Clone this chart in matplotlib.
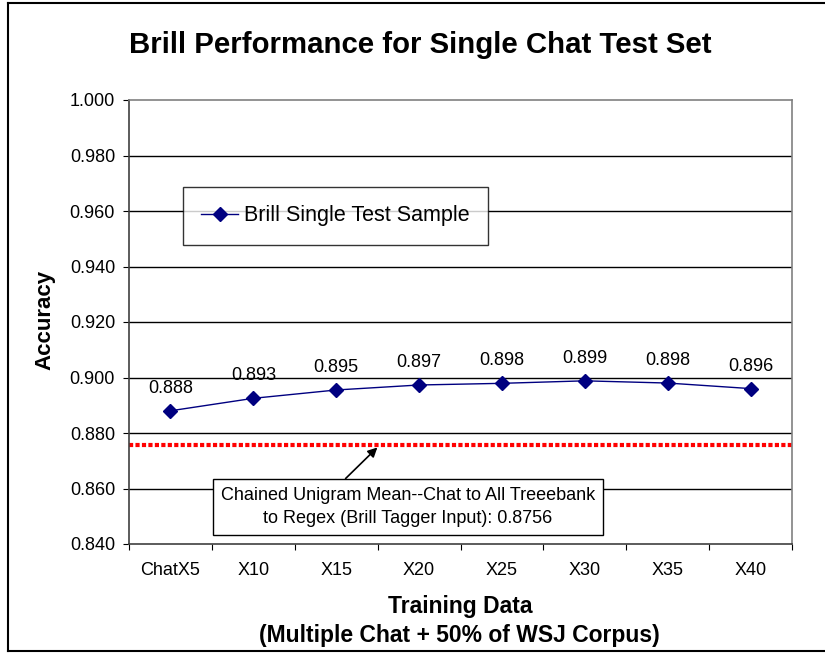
import matplotlib
matplotlib.use("Agg")
import matplotlib.pyplot as plt
import matplotlib.lines as mlines
import numpy as np

plt.rcParams['font.family'] = ['Liberation Sans', 'DejaVu Sans']

categories = ["ChatX5", "X10", "X15", "X20", "X25", "X30", "X35", "X40"]
accuracy = [0.8880, 0.8925, 0.8955, 0.8973, 0.8979, 0.8988, 0.8980, 0.8960]
value_labels = ["0.888", "0.893", "0.895", "0.897", "0.898", "0.899", "0.898", "0.896"]
baseline = 0.8756
yticks = [0.84, 0.86, 0.88, 0.90, 0.92, 0.94, 0.96, 0.98, 1.00]

W, H = 825, 657
fig = plt.figure(figsize=(W/100, H/100), dpi=100)

def fx(px):
    return px / W

def fy(py):
    return 1 - py / H

# outer frame (left, top, bottom edges visible)
for xs, ys in [((8, 8), (3, 651)), ((8, 830), (3, 3)), ((8, 830), (651, 651))]:
    fig.add_artist(mlines.Line2D([fx(v) for v in xs], [fy(v) for v in ys],
                                 transform=fig.transFigure, color='black', linewidth=1.5))

left, right, top, bottom = 129, 792, 100, 544
ax = fig.add_axes([fx(left), fy(bottom), (right-left)/W, (bottom-top)/H])

x = np.arange(len(categories))
ax.set_xlim(-0.5, len(categories)-0.5)
ax.set_ylim(0.84, 1.00)

for yv in yticks[1:-1]:
    ax.axhline(yv, color='black', linewidth=1.0, zorder=1)

ax.axhline(baseline, color='#ff0000', linewidth=3, linestyle=(0, (1, 0.55)), zorder=2)

line, = ax.plot(x, accuracy, color='#000080', linewidth=1, marker='D', markersize=7,
                markerfacecolor='#000080', markeredgecolor='#000080', zorder=3,
                label='Brill Single Test Sample')

for xi, yi, lab in zip(x, accuracy, value_labels):
    ax.annotate(lab, (xi, yi), xytext=(0, 10), textcoords='offset points',
                ha='center', va='bottom', fontsize=13)

ax.set_yticks(yticks)
ax.set_yticklabels([f"{v:.3f}" for v in yticks], fontsize=13)
ax.set_xticks(np.arange(-0.5, len(categories), 1.0))
ax.set_xticklabels([])
ax.set_xticks(x, minor=True)
ax.set_xticklabels(categories, minor=True, fontsize=13)
ax.tick_params(axis='x', which='minor', length=0, pad=13)
ax.tick_params(axis='x', which='major', length=4.5, direction='out', color='black')
ax.tick_params(axis='y', length=4.5, direction='out', color='black', pad=5.5)

for s in ['top', 'right']:
    ax.spines[s].set_color('#808080')
    ax.spines[s].set_linewidth(1.2)
for s in ['left', 'bottom']:
    ax.spines[s].set_color('#404040')
    ax.spines[s].set_linewidth(1.2)

fig.text(fx(460), fy(613), "Training Data", ha='center', va='baseline',
         fontsize=16.5, fontweight='bold')
fig.text(fx(459), fy(642), "(Multiple Chat + 50% of WSJ Corpus)", ha='center', va='baseline',
         fontsize=16.5, fontweight='bold')
fig.text(fx(45), fy(320), "Accuracy", ha='center', va='center', rotation=90,
         fontsize=16, fontweight='bold')

fig.text(fx(420), fy(53), "Brill Performance for Single Chat Test Set",
         ha='center', va='baseline', fontsize=21.2, fontweight='bold')

leg = fig.legend(handles=[line], loc='upper left', bbox_to_anchor=(fx(183), fy(187)),
                 bbox_transform=fig.transFigure,
                 fontsize=15.5, frameon=True, fancybox=False, edgecolor='black',
                 borderpad=0.85, handlelength=1.72, handletextpad=0.28, borderaxespad=0)
leg.get_frame().set_linewidth(1.0)

ax.annotate("Chained Unigram Mean--Chat to All Treeebank\nto Regex (Brill Tagger Input): 0.8756",
            xy=(2.497, 0.8748), xytext=(2.865, 0.8533),
            ha='center', va='center', fontsize=13, linespacing=1.45,
            bbox=dict(boxstyle='square,pad=0.45', facecolor='white', edgecolor='black', linewidth=1.0),
            arrowprops=dict(arrowstyle='-|>', color='black', lw=1.2, mutation_scale=14,
                            shrinkA=0, shrinkB=0, relpos=(0.31, 1.0)),
            zorder=5)

fig.savefig("out.png", dpi=100)
